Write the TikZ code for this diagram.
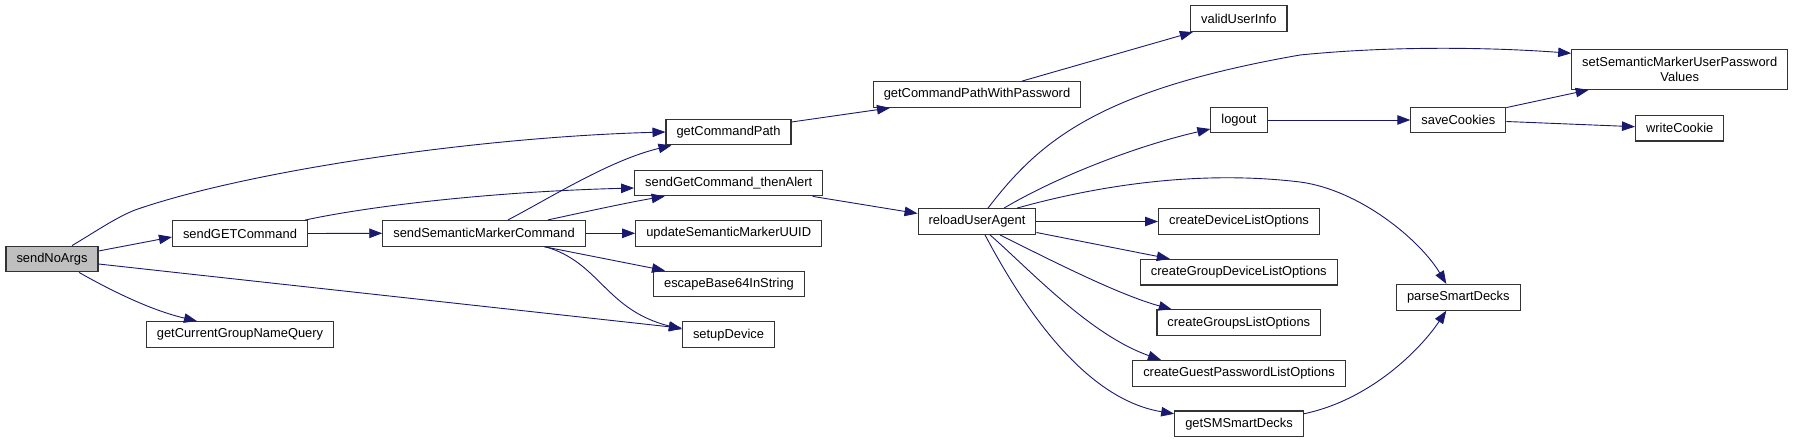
\documentclass[tikz,border=0pt]{standalone}
\usepackage{fontspec}
\setmainfont{Liberation Sans}
\usepackage{tikz}
\usetikzlibrary{arrows.meta}
\definecolor{edgeblue}{HTML}{191970}
\definecolor{boxline}{HTML}{333333}

\begin{document}
\begin{tikzpicture}[
  x=1pt, y=-1pt,
  fn/.style={rectangle, draw=boxline, line width=1.1pt, fill=white, minimum height=25.7pt,
    inner xsep=10.5pt, inner ysep=0pt, align=center, font=\fontsize{12.9pt}{15pt}\selectfont},
  call/.style={draw=edgeblue, line width=0.9pt, -{Triangle[length=13pt, width=9.5pt]}}
]
\useasboundingbox (0,0) rectangle (1795,443);

% Caller
\node[fn, fill=black!25] (sna) at (52,259) {sendNoArgs};

% First level
\node[fn] (sgc) at (240,233.5) {sendGETCommand};
\node[fn] (gcgnq) at (240,334.5) {getCurrentGroupNameQuery};
\node[fn] (ssmc) at (484,233.3) {sendSemanticMarkerCommand};

% Second level
\node[fn] (gcp) at (728.5,132) {getCommandPath};
\node[fn] (sgcta) at (728.7,183) {sendGetCommand\_thenAlert};
\node[fn] (usmu) at (728.7,233.3) {updateSemanticMarkerUUID};
\node[fn] (eb64) at (729,284) {escapeBase64InString};
\node[fn] (setup) at (728.5,334.7) {setupDevice};

% Third level
\node[fn] (gcpwp) at (977,94.5) {getCommandPathWithPassword};
\node[fn] (rua) at (977,221.5) {reloadUserAgent};

% Fourth level
\node[fn] (vui) at (1238.8,18.7) {validUserInfo};
\node[fn] (logout) at (1239,120) {logout};
\node[fn] (cdlo) at (1239,221.5) {createDeviceListOptions};
\node[fn] (cgdlo) at (1238.8,272.2) {createGroupDeviceListOptions};
\node[fn] (cglo) at (1238.8,322.8) {createGroupsListOptions};
\node[fn] (cgplo) at (1239,373.3) {createGuestPasswordListOptions};
\node[fn] (gsmsd) at (1239,423.8) {getSMSmartDecks};

% Fifth level
\node[fn] (sc) at (1458.3,120) {saveCookies};
\node[fn] (psd) at (1458.3,297.3) {parseSmartDecks};

% Sixth level
\node[fn, minimum height=40pt] (ssmupv) at (1679.7,69.3) {setSemanticMarkerUserPassword\\Values};
\node[fn] (wc) at (1679.7,128.2) {writeCookie};

% Calls from sendNoArgs
\draw[call] ([xshift=20pt]sna.north) .. controls (95,232) and (115,218) .. (135,210)
  .. controls (250,170) and (480,137) .. (gcp.west);
\draw[call] ([yshift=8pt]sna.east) -- ([yshift=-3.5pt]sgc.west);
\draw[call] ([yshift=-5pt]sna.east) -- ([yshift=6.5pt]setup.west);
\draw[call] ([xshift=27pt]sna.south) .. controls (110,290) and (150,310) .. ([xshift=-43pt]gcgnq.north);

% Calls from sendGETCommand
\draw[call] ([xshift=-3pt]sgc.north east) .. controls (360,208) and (480,192) .. ([yshift=-5pt]sgcta.west);
\draw[call] (sgc.east) -- (ssmc.west);

% Calls from sendSemanticMarkerCommand
\draw[call] ([xshift=24pt]ssmc.north) .. controls (550,198) and (610,160) .. ([xshift=-57pt]gcp.south);
\draw[call] ([xshift=64pt]ssmc.north) .. controls (580,213) and (630,202) .. ([xshift=-64pt]sgcta.south);
\draw[call] (ssmc.east) -- (usmu.west);
\draw[call] ([xshift=60pt]ssmc.south) -- ([xshift=-64pt]eb64.north);
\draw[call] ([xshift=61pt]ssmc.south) .. controls (600,262) and (605,310) .. ([yshift=5.5pt]setup.west);

% Command path
\draw[call] ([yshift=10pt]gcp.east) -- ([xshift=-87pt]gcpwp.south);
\draw[call] ([xshift=45pt]gcpwp.north) -- ([xshift=-46pt]vui.south);
\draw[call] ([xshift=84pt]sgcta.south) -- ([yshift=8pt]rua.west);

% Calls from reloadUserAgent
\draw[call] ([xshift=11pt]rua.north) .. controls (1040,140) and (1100,90) .. (1300,55)
  .. controls (1400,45) and (1500,48) .. ([yshift=16pt]ssmupv.west);
\draw[call] ([xshift=27pt]rua.north) .. controls (1060,175) and (1140,145) .. ([yshift=-9pt]logout.west);
\draw[call] ([xshift=40pt]rua.north) .. controls (1100,185) and (1200,170) .. (1300,182)
  .. controls (1360,190) and (1420,240) .. ([xshift=-12pt]psd.north);
\draw[call] (rua.east) -- (cdlo.west);
\draw[call] ([yshift=-11pt]rua.east) -- ([xshift=-69pt]cgdlo.north);
\draw[call] ([xshift=23pt]rua.south) .. controls (1060,265) and (1120,295) .. ([xshift=-67pt]cglo.north);
\draw[call] ([xshift=13pt]rua.south) .. controls (1030,270) and (1090,335) .. ([xshift=-78pt]cgplo.north);
\draw[call] ([xshift=8pt]rua.south) .. controls (1030,320) and (1090,400) .. ([yshift=10pt]gsmsd.west);

% Cookies
\draw[call] (logout.east) -- (sc.west);
\draw[call] ([yshift=-1pt]sc.north east) -- ([xshift=-91pt]ssmupv.south);
\draw[call] ([yshift=-1.5pt]sc.east) -- ([yshift=1.5pt]wc.west);

% Smart decks
\draw[call] ([yshift=10pt]gsmsd.east) .. controls (1370,400) and (1420,350) .. ([xshift=-12pt]psd.south);

\end{tikzpicture}
\end{document}
